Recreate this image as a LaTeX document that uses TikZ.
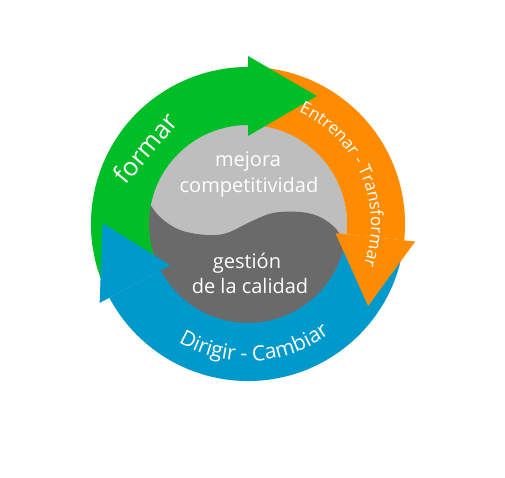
\documentclass[tikz,border=0pt]{standalone}
\usepackage{fontspec}
\setmainfont{Open Sans}
\usetikzlibrary{calc,decorations.text}
\definecolor{cgreen}{HTML}{00BE26}
\definecolor{corange}{HTML}{FF8C00}
\definecolor{cblue}{HTML}{0099CC}
\definecolor{glight}{HTML}{BEBEBE}
\definecolor{gdark}{HTML}{6A6A6A}
\def\ringin{99}
\def\ringout{157}
\def\ringmid{128}
\newcommand\ringbody[3]{%
  \fill[#1] ($(C)+(#2:\ringout)$) arc[start angle=#2,end angle=#3,radius=\ringout]
    -- ($(C)+(#3:\ringin)$) arc[start angle=#3,end angle=#2,radius=\ringin] -- cycle;}
\newcommand\ringhead[2]{%
  \fill[#1] ($(C)+(#2:\ringmid-40)$) -- ($(C)+(#2:\ringmid+40)$)
    -- ($(C)+(#2:\ringmid)+(#2-90:69)$) -- cycle;}
\tikzset{
  lbl/.style={text=white,font=\fontsize{20}{23}\selectfont,inner sep=0pt},
  shadowc/.style={black,opacity=0.13}
}
\begin{document}
\begin{tikzpicture}[x=1pt,y=1pt]
\useasboundingbox (0,0) rectangle (505,477);
\coordinate (C) at (248,253);
\coordinate (G) at (247,253);
% shadow
\begin{scope}[shift={(2.5,-2.5)}]
  \ringbody{shadowc}{206}{90}
  \ringbody{shadowc}{88}{-6}
  \ringbody{shadowc}{-8}{-152}
  \ringhead{shadowc}{90}
  \ringhead{shadowc}{-6}
  \ringhead{shadowc}{-152}
\end{scope}
% gray core
\fill[glight] (G) circle[radius=100];
\begin{scope}
  \clip (G) circle[radius=100];
  \fill[gdark] plot[smooth,tension=0.6] coordinates {(138,288) (147,277) (160,260) (180,247) (207,242) (227,244) (250,255) (273,264) (300,265) (320,260) (337,247) (345,230) (350,215)}
    -- (360,140) -- (130,140) -- cycle;
\end{scope}
% arrow bodies
\ringbody{cgreen}{206}{90}
\ringbody{corange}{88}{-6}
\ringbody{cblue}{-8}{-152}
% arrow heads
\ringhead{cgreen}{90}
\ringhead{corange}{-6}
\ringhead{cblue}{-152}
% centre texts
\node[lbl,anchor=base] (mej) at (248,310) {mejora};
\node[lbl,anchor=base] (com) at (249,284) {competitividad};
\node[lbl,anchor=base] (ges) at (247,209) {gestión};
\node[lbl,anchor=base] (cal) at (250,184) {de la calidad};
\node[text=white,font=\fontsize{25.5}{28}\selectfont,inner sep=0pt,rotate=50] (for) at (145,329) {formar};
% arc texts
\path[decorate,decoration={text along path,text align=center,
  text={|\fontsize{17}{17}\selectfont\color{white}|Entrenar - Transformar}}]
  ($(C)+(73:123)$) arc[start angle=73,end angle=-27,radius=123];
\path[decorate,decoration={text along path,text align=center,
  text={|\fontsize{21}{21}\selectfont\color{white}|Dirigir - Cambiar}}]
  ($(C)+(223:137)$) arc[start angle=223,end angle=323,radius=137];
\end{tikzpicture}
\end{document}
